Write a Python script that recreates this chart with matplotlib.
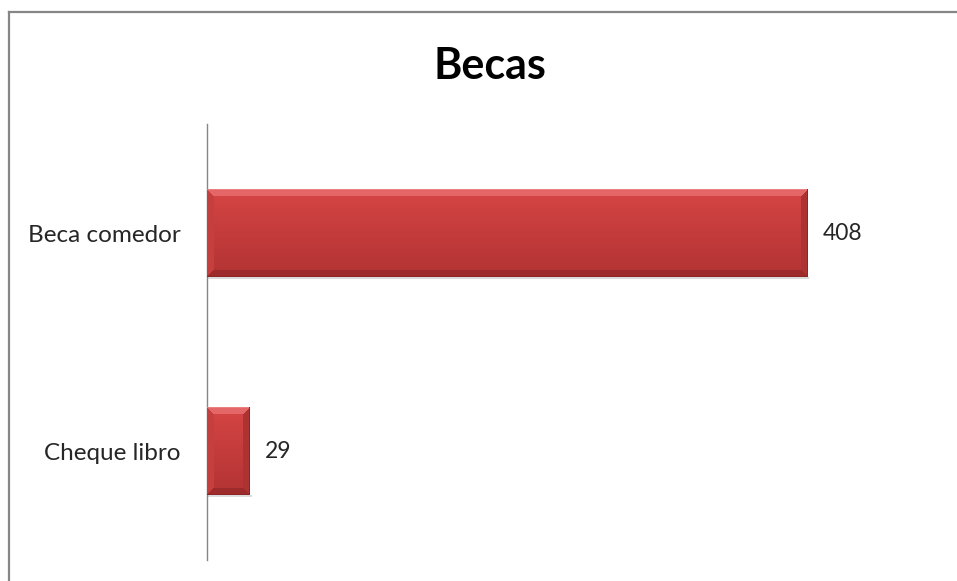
import matplotlib
matplotlib.use("Agg")
import matplotlib.pyplot as plt
import numpy as np
from matplotlib.lines import Line2D

# data
categories = ["Cheque libro", "Beca comedor"]
values = [29, 408]
title = "Becas"

plt.rcParams['font.family'] = ['Lato', 'DejaVu Sans']

W, H = 957, 581
fig = plt.figure(figsize=(W / 100, H / 100), dpi=100)
fig.patch.set_facecolor("white")

left, top, bottom = 207, 124, 560
px_per_unit = 600 / 408
xmax = 450
ax = fig.add_axes([left / W, 1 - bottom / H, xmax * px_per_unit / W, (bottom - top) / H])

y = np.arange(len(categories))
bars = ax.barh(y, values, height=0.4, color="#cf4141", edgecolor="none", zorder=2)
ax.set_xlim(0, xmax)
ax.set_ylim(-0.5, len(categories) - 0.5)

# bevel-like shading painted inside each bar
def bevel_image(wpx, hpx, b=7):
    wpx, hpx = max(int(round(wpx)), 2), max(int(round(hpx)), 2)
    yy = np.linspace(0, 1, hpx)[:, None]
    base_top = np.array([0.84, 0.27, 0.27])
    base_bot = np.array([0.70, 0.20, 0.20])
    img = base_top + (base_bot - base_top) * yy[..., None]
    img = np.repeat(img, wpx, axis=1)
    ii, jj = np.mgrid[0:hpx, 0:wpx]
    d_top, d_bot = ii, hpx - 1 - ii
    d_left, d_right = jj, wpx - 1 - jj
    top_band = (d_top < b) & (d_top <= d_left) & (d_top <= d_right)
    bot_band = (d_bot < b) & (d_bot <= d_left) & (d_bot <= d_right)
    left_band = (d_left < b) & ~top_band & ~bot_band & (d_left <= d_right)
    right_band = (d_right < b) & ~top_band & ~bot_band & (d_right < d_left)
    img[top_band] = [0.90, 0.40, 0.40]
    img[bot_band] = [0.62, 0.17, 0.17]
    img[left_band] = [0.78, 0.25, 0.25]
    img[right_band] = [0.68, 0.20, 0.20]
    img[0, :] = [0.92, 0.50, 0.50]
    img[-1, :] = [0.55, 0.15, 0.15]
    img[:, -1] = [0.55, 0.15, 0.15]
    return img

for bar in bars:
    x0, y0 = bar.get_x(), bar.get_y()
    x1, y1 = x0 + bar.get_width(), y0 + bar.get_height()
    p0 = ax.transData.transform((x0, y0))
    p1 = ax.transData.transform((x1, y1))
    img = bevel_image(p1[0] - p0[0], p1[1] - p0[1])
    ax.imshow(img, extent=(x0, x1, y0, y1), origin="upper", aspect="auto",
              interpolation="nearest", zorder=3)
    # soft shadow under the bar
    ax.add_patch(plt.Rectangle((x0, y0 - 0.012), bar.get_width() + 1.5, 0.012,
                               color="#dcdcdc", lw=0, zorder=1))
ax.set_xlim(0, xmax)
ax.set_ylim(-0.5, len(categories) - 0.5)

ax.bar_label(bars, labels=[str(v) for v in values], padding=11,
             fontsize=16.5, color="#262626", zorder=4)

for s in ["top", "right", "bottom"]:
    ax.spines[s].set_visible(False)
ax.spines["left"].set_color("#868686")
ax.spines["left"].set_linewidth(1.0)
ax.set_xticks([])
ax.set_yticks(y)
ax.set_yticklabels(categories, fontsize=17.5, color="#262626")
ax.tick_params(axis="y", length=0, pad=19)

fig.text(490 / W, 1 - 66 / H, title, ha="center", va="center",
         fontsize=31, fontweight="bold", color="black")

# chart frame (only the top and left edges fall inside the image)
fig.add_artist(Line2D([9 / W, 1], [1 - 12 / H, 1 - 12 / H], color="#868686", lw=1.6))
fig.add_artist(Line2D([9 / W, 9 / W], [0, 1 - 12 / H], color="#868686", lw=1.6))

fig.savefig("out.png", dpi=100, facecolor="white")
